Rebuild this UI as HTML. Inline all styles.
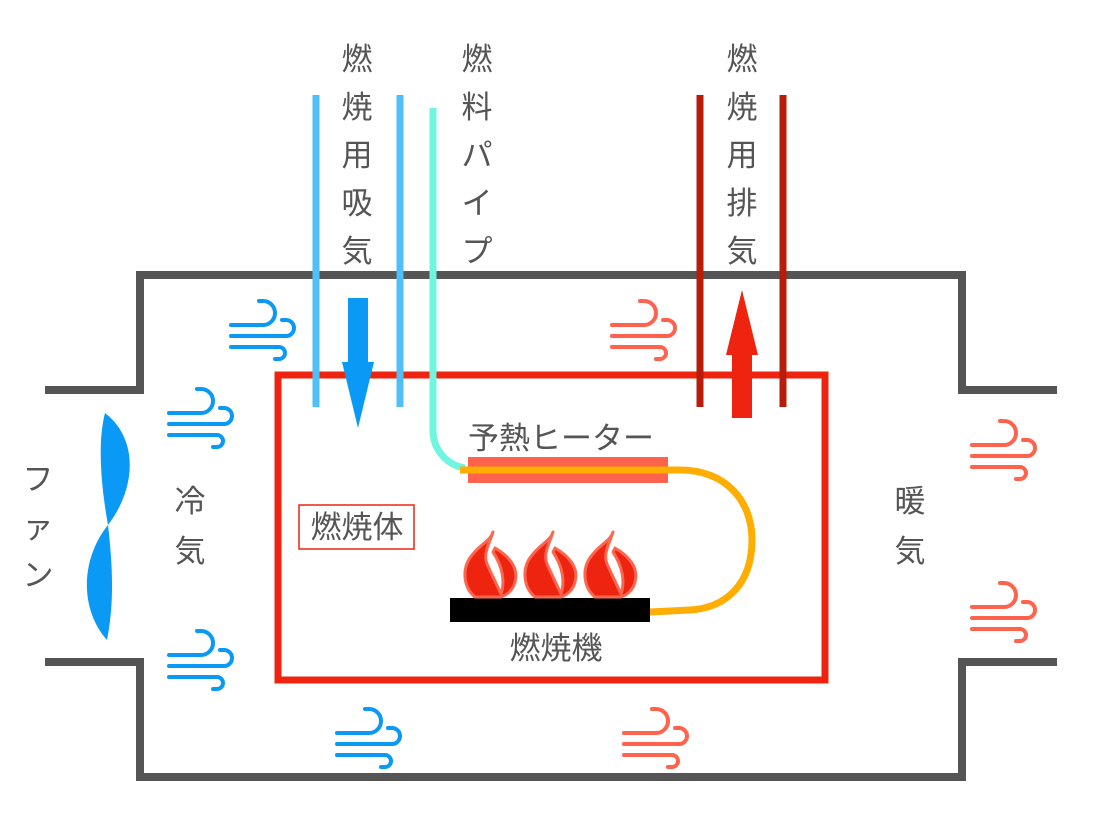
<!DOCTYPE html>
<html><head><meta charset="utf-8"><style>
body{margin:0;background:#fff;}
svg{display:block;}
text{font-family:"Liberation Sans","Noto Sans CJK JP",sans-serif;fill:#555;}
</style></head><body>
<svg width="1096" height="816" viewBox="0 0 1096 816" xmlns="http://www.w3.org/2000/svg">
<defs>
<g id="wind" fill="none" stroke-width="4" stroke-linecap="round">
<path d="M2,25 H34 A12,12 0 0 0 34,1 H30"/>
<path d="M2,36 H57 A8,8 0 0 0 57,20 H53"/>
<path d="M2,47 H50 A6,6 0 0 1 50,59 H46"/>
</g>
<path id="flame" d="M12,65 C0,55 -2,35 10,22 C18,12 28,8 30,0 C26,12 20,22 24,32 L38,62 C42,50 40,35 30,20 L32,16 C46,24 56,36 52,50 C50,58 44,63 38,65 Z" fill="#ee2410" stroke="#ff6650" stroke-width="3" stroke-linejoin="round"/>
</defs>
<path d="M45,390 H140 V275 H962 V390 H1057" fill="none" stroke="#555" stroke-width="8"/>
<path d="M45,662 H140 V777 H962 V662 H1057" fill="none" stroke="#555" stroke-width="8"/>
<rect x="278" y="375" width="547" height="305" fill="none" stroke="#ee2410" stroke-width="7"/>
<line x1="316" y1="95" x2="316" y2="407" stroke="#4fbff8" stroke-width="7"/>
<line x1="400" y1="95" x2="400" y2="407" stroke="#4fbff8" stroke-width="7"/>
<rect x="348" y="298" width="20" height="65" fill="#0a9af5"/>
<polygon points="342,362 374,362 358,428" fill="#0a9af5"/>
<line x1="700" y1="95" x2="700" y2="407" stroke="#b81c0a" stroke-width="7"/>
<line x1="783" y1="95" x2="783" y2="407" stroke="#b81c0a" stroke-width="7"/>
<rect x="732" y="352" width="20" height="66" fill="#ee2410"/>
<polygon points="726,355 758,355 742,290" fill="#ee2410"/>
<path d="M433,108 V430 A38,38 0 0 0 465,468" fill="none" stroke="#6ff5e0" stroke-width="7"/>
<rect x="468" y="457" width="200" height="26" fill="#ff634d"/>
<path d="M460,470 H680 C725,470 752,500 752,540 C752,585 725,608 690,610 L650,612" fill="none" stroke="#ffad00" stroke-width="7"/>
<rect x="450" y="598" width="200" height="24" fill="#000"/>
<use href="#flame" x="463" y="532"/>
<use href="#flame" x="523" y="532"/>
<use href="#flame" x="583" y="532"/>
<path d="M105,413 C140,440 135,490 108,525 C80,560 80,610 107,640 C115,600 112,560 108,525 C100,480 98,440 105,413 Z" fill="#0a9af5"/>
<use href="#wind" x="229" y="300" stroke="#0a9af5"/>
<use href="#wind" x="167" y="388" stroke="#0a9af5"/>
<use href="#wind" x="167" y="630" stroke="#0a9af5"/>
<use href="#wind" x="335" y="708" stroke="#0a9af5"/>
<use href="#wind" x="610" y="300" stroke="#ff634d"/>
<use href="#wind" x="970" y="420" stroke="#ff634d"/>
<use href="#wind" x="970" y="582" stroke="#ff634d"/>
<use href="#wind" x="622" y="708" stroke="#ff634d"/>
<g font-size="31" text-anchor="middle">
<text x="357" y="70">燃</text><text x="357" y="118">焼</text><text x="357" y="166">用</text><text x="357" y="214">吸</text><text x="357" y="262">気</text>
<text x="477" y="70">燃</text><text x="477" y="118">料</text><text x="477" y="166">パ</text><text x="477" y="214">イ</text><text x="477" y="262">プ</text>
<text x="742" y="70">燃</text><text x="742" y="118">焼</text><text x="742" y="166">用</text><text x="742" y="214">排</text><text x="742" y="262">気</text>
<text x="190" y="512">冷</text><text x="190" y="562">気</text>
<text x="910" y="512">暖</text><text x="910" y="562">気</text>
<text x="38" y="490">フ</text><text x="38" y="538">ァ</text><text x="38" y="586">ン</text>
</g>
<text x="468" y="449" font-size="31">予熱ヒーター</text>
<text x="556" y="659" font-size="31" text-anchor="middle">燃焼機</text>
<rect x="299" y="505" width="115" height="44" fill="none" stroke="#ee2410" stroke-width="1.5"/>
<text x="357" y="538" font-size="31" text-anchor="middle">燃焼体</text>
</svg>
</body></html>
